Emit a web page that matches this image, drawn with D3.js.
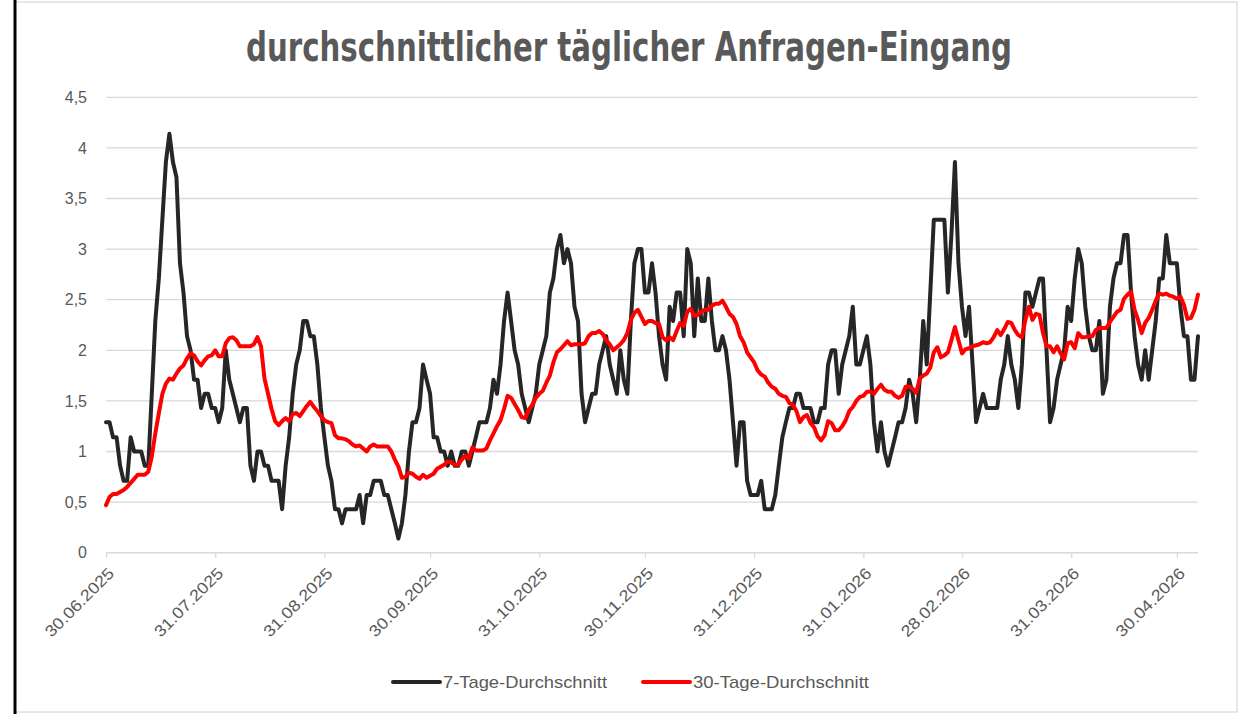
<!DOCTYPE html>
<meta charset="utf-8">
<html>
<style>
body { margin: 0; background: #fff; }
svg { display: block; }
.grid line { stroke: #d9d9d9; stroke-width: 1.3px; }
.axis text { fill: #595959; font-family: "Liberation Sans", Arial, sans-serif; font-size: 16px; }
.line { fill: none; stroke-width: 4px; stroke-linejoin: round; stroke-linecap: round; }
</style>
<body>
<script src="https://cdn.jsdelivr.net/npm/d3@7"></script>
<script>

// first day of the series, one value per day after that
var startDate = "30.06.2025";

// 7-Tage-Durchschnitt (daily)
var avg7 = [
  1.29, 1.29, 1.14, 1.14, 0.86, 0.71, 0.71, 1.14, 1.0, 1.0,
  1.0, 0.86, 0.86, 1.57, 2.29, 2.71, 3.29, 3.86, 4.14, 3.86,
  3.71, 2.86, 2.57, 2.14, 2.0, 1.71, 1.71, 1.43, 1.57, 1.57,
  1.43, 1.43, 1.29, 1.43, 2.0, 1.71, 1.57, 1.43, 1.29, 1.43,
  1.43, 0.86, 0.71, 1.0, 1.0, 0.86, 0.86, 0.71, 0.71, 0.71,
  0.43, 0.86, 1.14, 1.57, 1.86, 2.0, 2.29, 2.29, 2.14, 2.14,
  1.86, 1.43, 1.14, 0.86, 0.71, 0.43, 0.43, 0.29, 0.43, 0.43,
  0.43, 0.43, 0.57, 0.29, 0.57, 0.57, 0.71, 0.71, 0.71, 0.57,
  0.57, 0.43, 0.29, 0.14, 0.29, 0.57, 1.0, 1.29, 1.29, 1.43,
  1.86, 1.71, 1.57, 1.14, 1.14, 1.0, 1.0, 0.86, 1.0, 0.86,
  0.86, 1.0, 1.0, 0.86, 1.0, 1.14, 1.29, 1.29, 1.29, 1.43,
  1.71, 1.57, 1.86, 2.29, 2.57, 2.29, 2.0, 1.86, 1.57, 1.43,
  1.29, 1.43, 1.57, 1.86, 2.0, 2.14, 2.57, 2.71, 3.0, 3.14,
  2.86, 3.0, 2.86, 2.43, 2.29, 1.57, 1.29, 1.43, 1.57, 1.57,
  1.86, 2.0, 2.14, 1.86, 1.71, 1.57, 2.0, 1.71, 1.57, 2.29,
  2.86, 3.0, 3.0, 2.57, 2.57, 2.86, 2.57, 2.14, 1.86, 1.71,
  2.43, 2.29, 2.57, 2.57, 2.14, 3.0, 2.86, 2.14, 2.71, 2.29,
  2.29, 2.71, 2.29, 2.0, 2.0, 2.14, 2.0, 1.71, 1.29, 0.86,
  1.29, 1.29, 0.71, 0.57, 0.57, 0.57, 0.71, 0.43, 0.43, 0.43,
  0.57, 0.86, 1.14, 1.29, 1.43, 1.43, 1.57, 1.57, 1.43, 1.43,
  1.43, 1.29, 1.29, 1.43, 1.43, 1.86, 2.0, 2.0, 1.57, 1.86,
  2.0, 2.14, 2.43, 1.86, 1.86, 2.0, 2.14, 1.86, 1.29, 1.0,
  1.29, 1.0, 0.86, 1.0, 1.14, 1.29, 1.29, 1.43, 1.71, 1.57,
  1.29, 1.71, 2.29, 1.86, 2.57, 3.29, 3.29, 3.29, 3.29, 2.57,
  3.14, 3.86, 2.86, 2.43, 2.14, 2.43, 1.86, 1.29, 1.43, 1.57,
  1.43, 1.43, 1.43, 1.43, 1.71, 1.86, 2.14, 1.86, 1.71, 1.43,
  1.86, 2.57, 2.57, 2.43, 2.57, 2.71, 2.71, 2.0, 1.29, 1.43,
  1.71, 1.86, 2.0, 2.43, 2.29, 2.71, 3.0, 2.86, 2.43, 2.14,
  2.0, 2.0, 2.29, 1.57, 1.71, 2.43, 2.71, 2.86, 2.86, 3.14,
  3.14, 2.57, 2.14, 1.86, 1.71, 2.0, 1.71, 2.0, 2.29, 2.71,
  2.71, 3.14, 2.86, 2.86, 2.86, 2.43, 2.14, 2.14, 1.71, 1.71, 2.14
];

// 30-Tage-Durchschnitt (daily)
var avg30 = [
  0.47, 0.55, 0.58, 0.58, 0.60, 0.62, 0.65, 0.69, 0.73, 0.77,
  0.77, 0.77, 0.80, 0.95, 1.18, 1.38, 1.57, 1.67, 1.72, 1.71,
  1.77, 1.82, 1.85, 1.92, 1.97, 1.95, 1.89, 1.85, 1.90, 1.94,
  1.95, 2.0, 1.94, 1.94, 2.07, 2.12, 2.13, 2.10, 2.04, 2.04,
  2.04, 2.04, 2.06, 2.13, 2.04, 1.72, 1.57, 1.42, 1.30, 1.26,
  1.30, 1.33, 1.30, 1.37, 1.38, 1.35, 1.40, 1.45, 1.49, 1.44,
  1.40, 1.35, 1.31, 1.29, 1.28, 1.16, 1.13, 1.13, 1.12, 1.10,
  1.07, 1.05, 1.06, 1.03, 1.0, 1.05, 1.07, 1.05, 1.05, 1.05,
  1.05, 1.0, 0.92, 0.85, 0.74, 0.75, 0.79, 0.78, 0.75, 0.73,
  0.77, 0.74, 0.76, 0.78, 0.83, 0.85, 0.87, 0.90, 0.89, 0.87,
  0.87, 0.92, 0.96, 0.93, 1.04, 1.01, 1.01, 1.01, 1.03, 1.11,
  1.18, 1.25, 1.31, 1.42, 1.55, 1.53, 1.47, 1.41, 1.34, 1.33,
  1.41, 1.46, 1.53, 1.57, 1.60, 1.68, 1.75, 1.88, 1.98, 2.01,
  2.05, 2.09, 2.05, 2.06, 2.06, 2.06, 2.07, 2.14, 2.17, 2.17,
  2.19, 2.16, 2.10, 2.06, 2.0, 2.03, 2.06, 2.10, 2.17, 2.30,
  2.37, 2.40, 2.33, 2.26, 2.29, 2.29, 2.27, 2.26, 2.13, 2.10,
  2.13, 2.10, 2.19, 2.27, 2.24, 2.38, 2.41, 2.34, 2.35, 2.38,
  2.40, 2.40, 2.44, 2.46, 2.46, 2.49, 2.43, 2.36, 2.33, 2.26,
  2.14, 2.08, 1.98, 1.93, 1.88, 1.80, 1.76, 1.74, 1.68, 1.64,
  1.62, 1.57, 1.55, 1.54, 1.48, 1.46, 1.40, 1.29, 1.34, 1.36,
  1.28, 1.24, 1.15, 1.11, 1.16, 1.30, 1.28, 1.21, 1.21, 1.25,
  1.31, 1.40, 1.44, 1.50, 1.54, 1.55, 1.59, 1.59, 1.57, 1.62,
  1.66, 1.61, 1.59, 1.59, 1.55, 1.53, 1.55, 1.64, 1.64, 1.62,
  1.58, 1.72, 1.75, 1.77, 1.83, 1.98, 2.03, 1.93, 1.95, 1.98,
  2.10, 2.23, 2.10, 1.97, 2.01, 2.02, 2.04, 2.05, 2.06, 2.08,
  2.07, 2.08, 2.13, 2.20, 2.15, 2.21, 2.28, 2.27, 2.20, 2.15,
  2.13, 2.30, 2.43, 2.30, 2.36, 2.35, 2.17, 2.04, 2.04, 1.98,
  2.04, 1.97, 1.91, 2.07, 2.08, 2.02, 2.17, 2.13, 2.13, 2.14,
  2.14, 2.20, 2.22, 2.22, 2.22, 2.28, 2.33, 2.38, 2.40, 2.51,
  2.55, 2.58, 2.40, 2.30, 2.17, 2.27, 2.32, 2.40, 2.49, 2.56,
  2.55, 2.56, 2.54, 2.53, 2.51, 2.53, 2.45, 2.31, 2.32, 2.40, 2.55
];

// x axis labels (month ends)
var tickLabels = ["30.06.2025", "31.07.2025", "31.08.2025", "30.09.2025", "31.10.2025",
  "30.11.2025", "31.12.2025", "31.01.2026", "28.02.2026", "31.03.2026", "30.04.2026"];
var yTicks = [0, 0.5, 1, 1.5, 2, 2.5, 3, 3.5, 4, 4.5];

var seriesNames = ["7-Tage-Durchschnitt", "30-Tage-Durchschnitt"];
var seriesColors = ["#262626", "#ff0000"];

var width = 1240, height = 714;
var parse = d3.timeParse("%d.%m.%Y");
var fmtNum = function(v) { return String(v).replace(".", ","); };

var start = parse(startDate);
var rows = avg7.map(function(v, i) {
  return { date: d3.timeDay.offset(start, i), a7: v, a30: avg30[i] };
});

var svg = d3.select("body").append("svg")
    .attr("width", width)
    .attr("height", height);

// chart frame
svg.append("rect")
    .attr("x", 15).attr("y", 2)
    .attr("width", 1222).attr("height", 710)
    .attr("fill", "#fff")
    .attr("stroke", "#d0d0d0")
    .attr("stroke-width", 1);
svg.append("line")
    .attr("x1", 15).attr("x2", 15)
    .attr("y1", 0).attr("y2", height)
    .attr("stroke", "#000")
    .attr("stroke-width", 3);

var x = d3.scaleTime()
    .domain([start, rows[rows.length - 1].date])
    .range([106, 1198]);
var y = d3.scaleLinear()
    .domain([0, 4.5])
    .range([552.7, 97.3]);

// gridlines
svg.append("g").attr("class", "grid")
  .selectAll("line")
  .data(yTicks.filter(function(d) { return d > 0; }))
  .enter().append("line")
    .attr("x1", 106).attr("x2", 1198)
    .attr("y1", function(d) { return y(d); })
    .attr("y2", function(d) { return y(d); });

// y axis labels
var yAxis = svg.append("g").attr("class", "axis")
    .attr("transform", "translate(106,0)")
    .call(d3.axisLeft(y).tickValues(yTicks).tickSize(0).tickPadding(19).tickFormat(fmtNum));
yAxis.select(".domain").remove();

// x axis
var xAxis = svg.append("g").attr("class", "axis")
    .attr("transform", "translate(0," + y(0) + ")")
    .call(d3.axisBottom(x).tickValues(tickLabels.map(parse)).tickSize(5)
      .tickFormat(d3.timeFormat("%d.%m.%Y")));
xAxis.select(".domain")
    .attr("d", "M106,0H1198")
    .attr("stroke", "#d9d9d9")
    .attr("stroke-width", 1.5);
xAxis.selectAll(".tick line").attr("stroke", "#d9d9d9").attr("stroke-width", 1.3);
xAxis.selectAll(".tick text")
    .attr("text-anchor", "end")
    .attr("transform", "translate(5,18) rotate(-45)")
    .attr("dy", "0.32em")
    .attr("y", 0)
    .attr("textLength", 90)
    .attr("lengthAdjust", "spacingAndGlyphs");

// lines
var keys = ["a7", "a30"];
keys.forEach(function(k, i) {
  var line = d3.line()
      .x(function(d) { return x(d.date); })
      .y(function(d) { return y(d[k]); });
  svg.append("path")
      .datum(rows)
      .attr("class", "line")
      .attr("stroke", seriesColors[i])
      .attr("d", line);
});

// title
svg.append("text")
    .attr("x", 629)
    .attr("y", 61)
    .attr("text-anchor", "middle")
    .attr("fill", "#595959")
    .attr("font-family", "'DejaVu Sans Condensed', 'Liberation Sans', sans-serif")
    .attr("font-weight", "bold")
    .attr("font-size", 40)
    .attr("textLength", 766)
    .attr("lengthAdjust", "spacingAndGlyphs")
    .text("durchschnittlicher täglicher Anfragen-Eingang");

// legend
var legendX = [393, 643];
var legendW = [164, 176];
var legend = svg.append("g").selectAll("g")
    .data(seriesNames)
    .enter().append("g")
    .attr("transform", function(d, i) { return "translate(" + legendX[i] + ",682)"; });
legend.append("line")
    .attr("x1", 0).attr("x2", 47)
    .attr("stroke", function(d, i) { return seriesColors[i]; })
    .attr("stroke-width", 4)
    .attr("stroke-linecap", "round");
legend.append("text")
    .attr("x", 50)
    .attr("dy", "0.35em")
    .attr("fill", "#595959")
    .attr("font-family", "'Liberation Sans', Arial, sans-serif")
    .attr("font-size", 17)
    .attr("textLength", function(d, i) { return legendW[i]; })
    .attr("lengthAdjust", "spacingAndGlyphs")
    .text(function(d) { return d; });

</script>
</body>
</html>
